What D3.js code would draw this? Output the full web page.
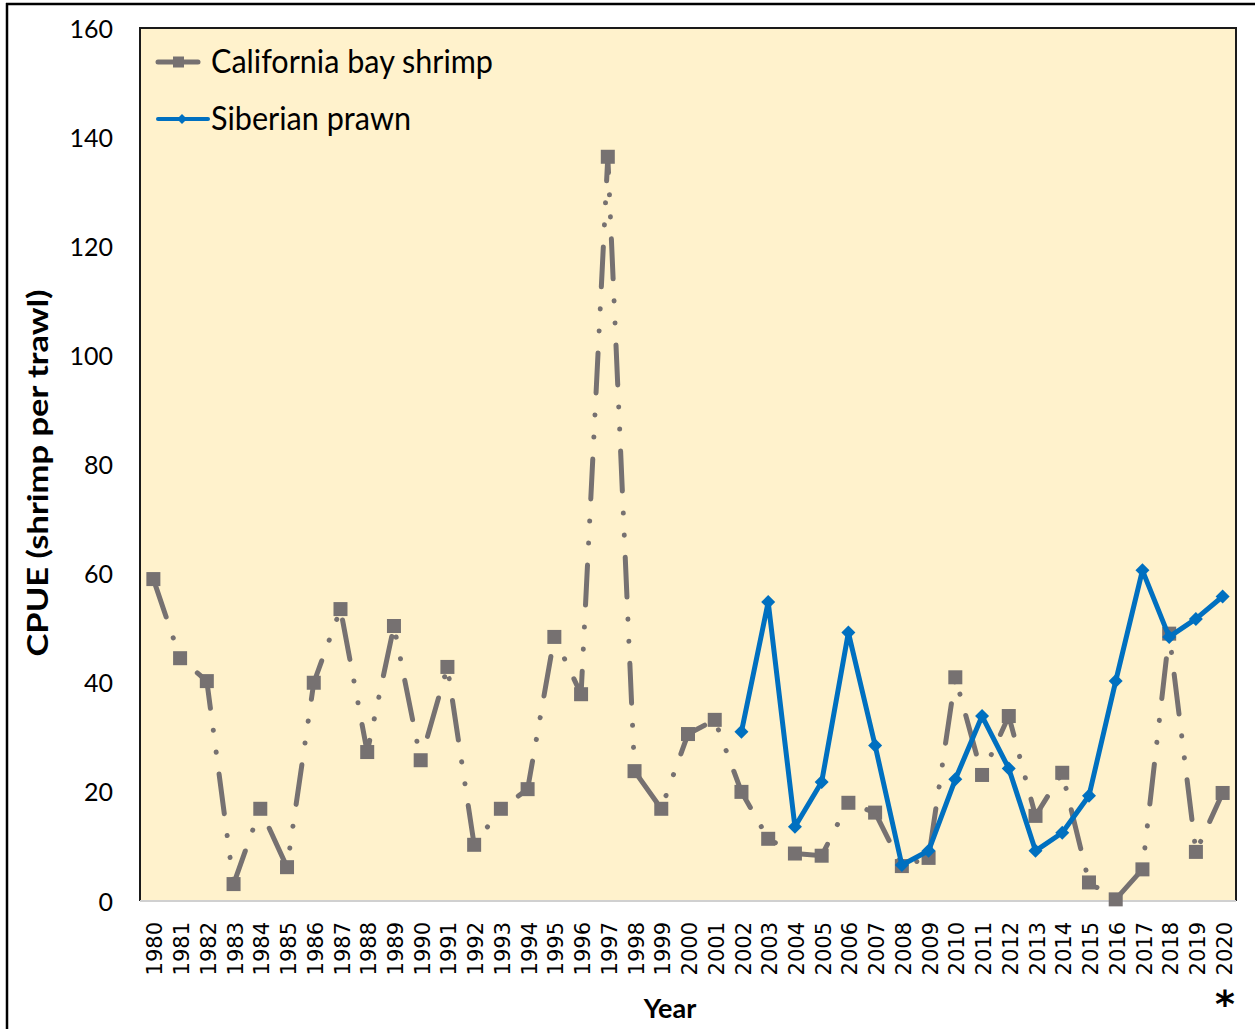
<!DOCTYPE html>
<html><head><meta charset="utf-8">
<script src="https://cdn.jsdelivr.net/npm/d3@7"></script>
<style>body{margin:0;background:#fff}svg{display:block}</style>
</head><body><svg id="c" width="1255" height="1029"></svg>
<script>
// ---- data ----
const years = ["1980","1981","1982","1983","1984","1985","1986","1987","1988","1989",
  "1990","1991","1992","1993","1994","1995","1996","1997","1998","1999",
  "2000","2001","2002","2003","2004","2005","2006","2007","2008","2009",
  "2010","2011","2012","2013","2014","2015","2016","2017","2018","2019","2020"];
const bayShrimp = [59.0,44.5,40.3,3.1,16.9,6.2,40.0,53.5,27.3,50.4,
  25.8,42.9,10.3,16.9,20.5,48.4,37.9,136.4,23.8,16.9,
  30.6,33.2,20.0,11.4,8.7,8.3,18.0,16.2,6.4,7.9,
  41.0,23.1,33.9,15.6,23.5,3.4,0.3,5.8,49.0,9.0,19.8];
const prawnYears = ["2002","2003","2004","2005","2006","2007","2008","2009","2010","2011",
  "2012","2013","2014","2015","2016","2017","2018","2019","2020"];
const siberianPrawn = [31.0,54.8,13.6,21.8,49.2,28.5,6.6,9.2,22.3,33.9,
  24.3,9.2,12.5,19.3,40.3,60.6,48.4,51.7,55.8];
const yTicks = [0,20,40,60,80,100,120,140,160];
const seriesNames = ["California bay shrimp","Siberian prawn"];
const yTitle = "CPUE (shrimp per trawl)";
const xTitle = "Year";

// ---- layout ----
const svg = d3.select("#c");
const L = 140, T = 28, R = 1236, B = 901;
const x = d3.scaleBand().domain(years).range([L, R]).padding(0);
const y = d3.scaleLinear().domain([0,160]).range([B, T]);
const cx = d => x(d) + x.bandwidth()/2;
const gray = "#767171", blue = "#0070C0";

// outer frame
svg.append("line").attr("x1",6).attr("x2",1255).attr("y1",4).attr("y2",4).attr("stroke","#000").attr("stroke-width",2.5);
svg.append("line").attr("x1",7).attr("x2",7).attr("y1",3).attr("y2",1029).attr("stroke","#000").attr("stroke-width",2.5);

// plot area
svg.append("rect").attr("x",L).attr("y",T).attr("width",R-L).attr("height",B-T).attr("fill","#FFF2CC");
svg.append("path").attr("d",`M${L},${B}V${T}H${R}V${B}`).attr("fill","none").attr("stroke","#1a1a1a").attr("stroke-width",2);
svg.append("line").attr("x1",L).attr("x2",R).attr("y1",B).attr("y2",B).attr("stroke","#d0d0d0").attr("stroke-width",2);

// y axis labels
const yAxis = d3.axisLeft(y).tickValues(yTicks).tickSize(0).tickPadding(27);
const gy = svg.append("g").attr("transform",`translate(${L},0)`).call(yAxis);
gy.select(".domain").remove();
gy.selectAll("text").attr("font-family","Lato, 'Open Sans', sans-serif").attr("font-size",25).attr("fill","#000").attr("dy","0.36em");

// x axis labels
const xAxis = d3.axisBottom(x).tickSize(0);
const gx = svg.append("g").attr("transform",`translate(0,${B})`).call(xAxis);
gx.select(".domain").remove();
gx.selectAll("text")
  .attr("font-family","'DejaVu Sans', sans-serif").attr("font-size",21).attr("fill","#000")
  .attr("text-anchor","end").attr("dy","0.36em").attr("y",0)
  .attr("transform","translate(1.5,21) rotate(-90)");

// titles
svg.append("text").attr("transform","translate(48,473) rotate(-90)")
  .attr("text-anchor","middle").attr("font-family","Lato, sans-serif").attr("font-weight","bold")
  .attr("font-size",29).attr("textLength",367).attr("lengthAdjust","spacingAndGlyphs").text(yTitle);
svg.append("text").attr("x",670).attr("y",1018).attr("text-anchor","middle")
  .attr("font-family","Lato, sans-serif").attr("font-weight","bold").attr("font-size",27).text(xTitle);
svg.append("text").attr("x",1225).attr("y",1017).attr("text-anchor","middle")
  .attr("font-family","'DejaVu Sans', sans-serif").attr("font-weight","bold").attr("font-size",38).text("*");

// gray series
const gLine = d3.line().x((d,i)=>cx(years[i])).y(d=>y(d));
svg.append("path").datum(bayShrimp).attr("d",gLine).attr("fill","none")
  .attr("stroke",gray).attr("stroke-width",5).attr("stroke-linecap","round")
  .attr("stroke-dasharray","40,22,0.1,22,0.1,22");
svg.append("g").selectAll("rect").data(bayShrimp).join("rect")
  .attr("x",(d,i)=>cx(years[i])-7).attr("y",d=>y(d)-7).attr("width",14).attr("height",14).attr("fill",gray);

// blue series
const bLine = d3.line().x((d,i)=>cx(prawnYears[i])).y(d=>y(d));
svg.append("path").datum(siberianPrawn).attr("d",bLine).attr("fill","none")
  .attr("stroke",blue).attr("stroke-width",5).attr("stroke-linejoin","round");
const diamond = r => `M0,${-r}L${r},0L0,${r}L${-r},0Z`;
svg.append("g").selectAll("path").data(siberianPrawn).join("path")
  .attr("transform",(d,i)=>`translate(${cx(prawnYears[i])},${y(d)})`).attr("d",diamond(7)).attr("fill",blue);

// legend
const lg = svg.append("g");
lg.append("line").attr("x1",158).attr("x2",198).attr("y1",62).attr("y2",62).attr("stroke",gray).attr("stroke-width",5).attr("stroke-linecap","round");
lg.append("rect").attr("x",173).attr("y",56.5).attr("width",11).attr("height",11).attr("fill",gray);
lg.append("text").attr("x",211).attr("y",73).attr("font-family","Lato, sans-serif").attr("font-size",32)
  .attr("textLength",282).attr("lengthAdjust","spacingAndGlyphs").text(seriesNames[0]);
lg.append("line").attr("x1",158).attr("x2",208).attr("y1",119).attr("y2",119).attr("stroke",blue).attr("stroke-width",4).attr("stroke-linecap","round");
lg.append("path").attr("transform","translate(182,119)").attr("d",diamond(5)).attr("fill",blue);
lg.append("text").attr("x",211).attr("y",130).attr("font-family","Lato, sans-serif").attr("font-size",32)
  .attr("textLength",200).attr("lengthAdjust","spacingAndGlyphs").text(seriesNames[1]);
</script></body></html>
